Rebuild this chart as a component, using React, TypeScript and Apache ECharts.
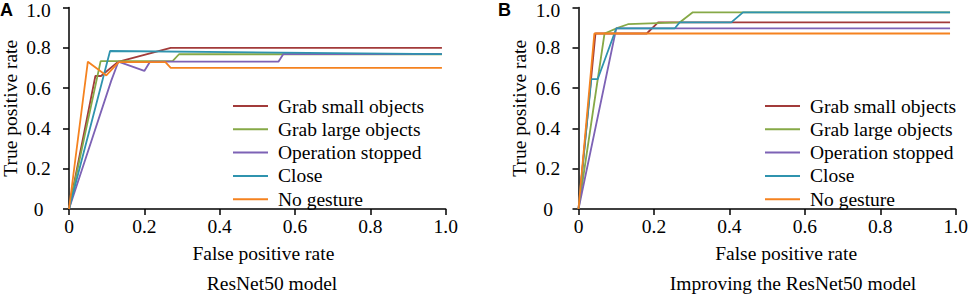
import React, { useEffect, useRef } from "react";
import * as echarts from "echarts";

const seriesNames = ["Grab small objects", "Grab large objects", "Operation stopped", "Close", "No gesture"];
const colors = ["#a23b3a", "#86a947", "#7d62b5", "#2f93ae", "#f5821f"];

// Panel A: ResNet50 model  [FPR, TPR]
const smallA = [[0, 0], [0.07, 0.66], [0.085, 0.66], [0.13, 0.73], [0.27, 0.8], [0.99, 0.8]];
const largeA = [[0, 0], [0.084, 0.734], [0.275, 0.734], [0.292, 0.768], [0.99, 0.768]];
const stopA = [[0, 0], [0.112, 0.636], [0.131, 0.731], [0.2, 0.685], [0.215, 0.731], [0.556, 0.731], [0.569, 0.769], [0.99, 0.769]];
const closeA = [[0, 0], [0.109, 0.784], [0.99, 0.769]];
const noneA = [[0, 0], [0.05, 0.731], [0.099, 0.663], [0.132, 0.729], [0.256, 0.729], [0.27, 0.7], [0.99, 0.7]];

// Panel B: Improving the ResNet50 model
const smallB = [[0, 0], [0.045, 0.871], [0.181, 0.871], [0.211, 0.926], [0.985, 0.926]];
const largeB = [[0, 0], [0.069, 0.871], [0.104, 0.899], [0.131, 0.917], [0.268, 0.926], [0.303, 0.976], [0.985, 0.976]];
const stopB = [[0, 0], [0.1, 0.896], [0.985, 0.896]];
const closeB = [[0, 0], [0.034, 0.645], [0.051, 0.645], [0.1, 0.896], [0.255, 0.896], [0.268, 0.926], [0.405, 0.926], [0.436, 0.976], [0.985, 0.976]];
const noneB = [[0, 0], [0.042, 0.871], [0.985, 0.871]];

const xTickLabels = ["0", "0.2", "0.4", "0.6", "0.8", "1.0"];
const yTickLabels = ["0", "0.2", "0.4", "0.6", "0.8", "1.0"];
const xTitle = "False positive rate";
const yTitle = "True positive rate";
const panelTitles = ["ResNet50 model", "Improving the ResNet50 model"];
const panelLetters = ["A", "B"];

const FONT = "Liberation Serif";
const AXFONT = "serif";
const FS = 19.5;

function fmtX(v: number) {
  return xTickLabels[Math.round(v / 0.2)] ?? "";
}
function fmtY(v: number) {
  const idx = Math.round(v / 0.2);
  const t = yTickLabels[idx] ?? "";
  return idx === yTickLabels.length - 1 ? "{top|" + t + "}" : "{n|" + t + "}";
}

export default function App() {
  const ref = useRef<HTMLDivElement>(null);
  useEffect(() => {
    if (!ref.current) return;
    const chart = echarts.init(ref.current, null, { renderer: "svg" });
    const axText = { fontFamily: AXFONT, fontSize: FS, color: "#000" };
    const axisCommon = {
      min: 0,
      max: 1,
      interval: 0.2,
      type: "value" as const,
      splitLine: { show: false },
      axisLine: { show: true, lineStyle: { color: "#000", width: 1.5 } },
      axisTick: { show: true, inside: false, length: 6, lineStyle: { color: "#000", width: 1.5 } },
    };
    const xAxis = [0, 1].map((i) => ({
      ...axisCommon,
      gridIndex: i,
      name: xTitle,
      nameLocation: "middle",
      nameGap: 34,
      nameTextStyle: { ...axText, padding: [0, 0, 0, i === 0 ? 12 : 38] },
      axisLabel: { margin: 7, ...axText, formatter: fmtX },
    }));
    const yAxis = [0, 1].map((i) => ({
      ...axisCommon,
      gridIndex: i,
      name: yTitle,
      nameLocation: "middle",
      nameGap: 49,
      nameTextStyle: { ...axText },
      axisLabel: {
        margin: 30.5,
        align: "center",
        ...axText,
        formatter: fmtY,
        rich: {
          n: { ...axText },
          top: { ...axText, padding: [6, 0, 0, 0] },
        },
      },
    }));
    const dataA = [smallA, largeA, stopA, closeA, noneA];
    const dataB = [smallB, largeB, stopB, closeB, noneB];
    const series: any[] = [];
    [dataA, dataB].forEach((set, p) => {
      set.forEach((d, k) => {
        series.push({
          type: "line",
          name: seriesNames[k],
          xAxisIndex: p,
          yAxisIndex: p,
          data: d,
          symbol: "none",
          showSymbol: false,
          color: colors[k],
          itemStyle: { color: colors[k] },
          lineStyle: { color: colors[k], width: 1.8 },
        });
      });
    });
    const legendCommon = {
      orient: "vertical",
      top: 96,
      padding: 0,
      icon: "rect",
      itemWidth: 35,
      itemHeight: 2,
      itemGap: 3.3,
      data: seriesNames,
      textStyle: { fontFamily: FONT, fontSize: FS, lineHeight: 20, color: "#000", padding: [0, 0, 0, 5] },
    };
    chart.setOption({
      animation: false,
      textStyle: { fontFamily: FONT },
      grid: [
        { left: 69, right: 523.3, top: 7.5, bottom: 86, outerBoundsMode: "none", containLabel: false },
        { left: 578.5, right: 13.3, top: 7.5, bottom: 86, outerBoundsMode: "none", containLabel: false },
      ],
      xAxis,
      yAxis,
      legend: [
        { ...legendCommon, left: 233 },
        { ...legendCommon, left: 765 },
      ],
      series,
      graphic: [
        { type: "text", x: 272, y: 283, style: { text: panelTitles[0], fontFamily: FONT, fontSize: FS, fill: "#000", textAlign: "center", textVerticalAlign: "middle" } },
        { type: "text", x: 793, y: 283, style: { text: panelTitles[1], fontFamily: FONT, fontSize: FS, fill: "#000", textAlign: "center", textVerticalAlign: "middle" } },
        { type: "text", x: 0, y: 10, style: { text: panelLetters[0], fontFamily: "Liberation Sans", fontWeight: "bold", fontSize: 18, fill: "#000", textAlign: "left", textVerticalAlign: "middle" } },
        { type: "text", x: 498, y: 10, style: { text: panelLetters[1], fontFamily: "Liberation Sans", fontWeight: "bold", fontSize: 18, fill: "#000", textAlign: "left", textVerticalAlign: "middle" } },
      ],
    });
    return () => chart.dispose();
  }, []);
  return <div ref={ref} style={{ width: 969, height: 295, position: "absolute", left: 0, top: 0 }} />;
}
